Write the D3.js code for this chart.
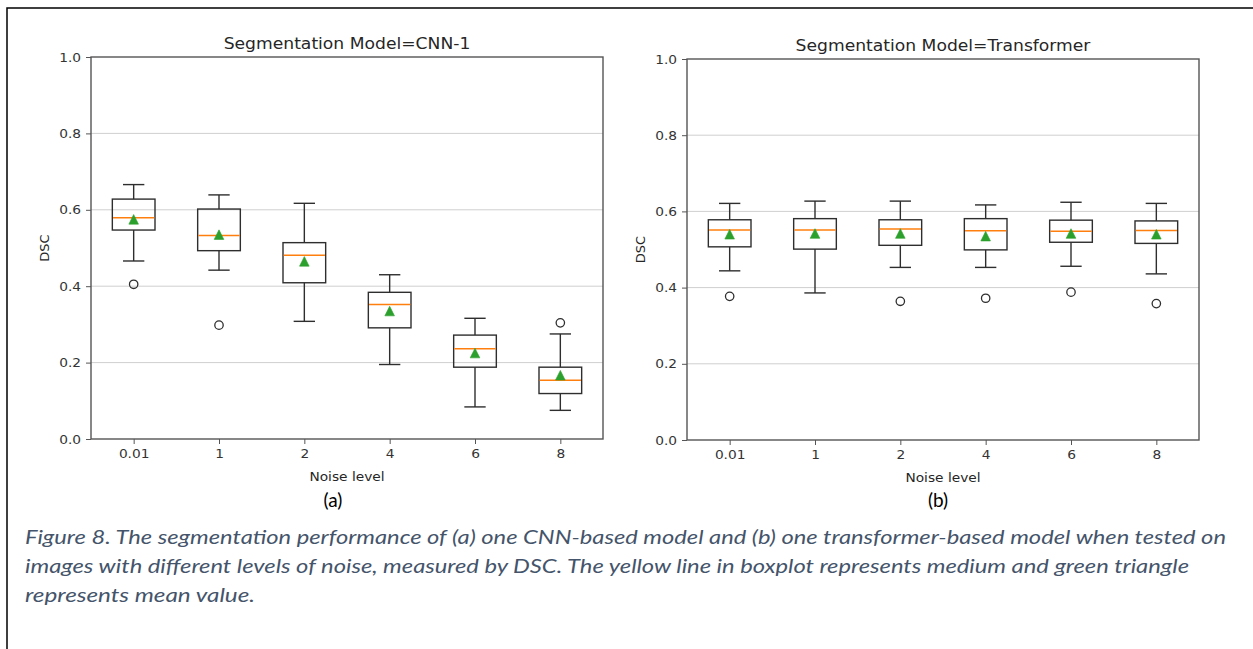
<!DOCTYPE html>
<html>
<head>
<meta charset="utf-8">
<script src="https://cdn.jsdelivr.net/npm/d3@7"></script>
<style>
  body { margin: 0; background: #fff; }
  svg text { font-family: "DejaVu Sans", sans-serif; }
</style>
</head>
<body>
<div id="my_dataviz"></div>
<script>
// categories on the x axis
var noiseLevels = ["0.01", "1", "2", "4", "6", "8"];
var yTicks = [0.0, 0.2, 0.4, 0.6, 0.8, 1.0];

// (a) CNN-1 box statistics
var cnnLow     = [0.466, 0.442, 0.308, 0.195, 0.084, 0.075];
var cnnQ1      = [0.547, 0.493, 0.409, 0.291, 0.188, 0.119];
var cnnMedian  = [0.579, 0.533, 0.481, 0.352, 0.236, 0.154];
var cnnQ3      = [0.628, 0.602, 0.514, 0.384, 0.272, 0.188];
var cnnHigh    = [0.666, 0.639, 0.617, 0.430, 0.316, 0.275];
var cnnMean    = [0.575, 0.535, 0.465, 0.335, 0.225, 0.167];
var cnnOutliers = [[0.405], [0.298], [], [], [], [0.304]];

// (b) Transformer box statistics
var trfLow     = [0.444, 0.386, 0.453, 0.453, 0.456, 0.436];
var trfQ1      = [0.507, 0.501, 0.511, 0.499, 0.519, 0.516];
var trfMedian  = [0.551, 0.551, 0.554, 0.549, 0.548, 0.550];
var trfQ3      = [0.578, 0.581, 0.578, 0.581, 0.577, 0.575];
var trfHigh    = [0.621, 0.627, 0.627, 0.617, 0.624, 0.621];
var trfMean    = [0.540, 0.542, 0.542, 0.535, 0.542, 0.540];
var trfOutliers = [[0.377], [], [0.364], [0.372], [0.388], [0.358]];

var svg = d3.select("#my_dataviz")
  .append("svg")
    .attr("width", 1253)
    .attr("height", 649);

// frame of the figure (only top and left edges fall inside the page)
svg.append("rect")
  .attr("x", 7).attr("y", 8)
  .attr("width", 1400).attr("height", 800)
  .attr("fill", "none")
  .attr("stroke", "#000")
  .attr("stroke-width", 1.5);

function makeStats(low, q1, med, q3, high, mean, outl) {
  return noiseLevels.map(function(n, i) {
    return {level: n, low: low[i], q1: q1[i], med: med[i], q3: q3[i], high: high[i], mean: mean[i], out: outl[i]};
  });
}

function drawPanel(opt) {
  var x = d3.scalePoint()
    .domain(noiseLevels)
    .range([opt.x0, opt.x1])
    .padding(0.5);
  var y = d3.scaleLinear()
    .domain([0, 1])
    .range([opt.y1, opt.y0]);
  var step = x.step();
  var boxW = step * 0.5, capW = step * 0.25;

  var g = svg.append("g");

  // grid
  g.selectAll(".grid")
    .data(yTicks.filter(function(d) { return d > 0 && d < 1; }))
    .enter().append("line")
      .attr("x1", opt.x0).attr("x2", opt.x1)
      .attr("y1", function(d) { return y(d); })
      .attr("y2", function(d) { return y(d); })
      .attr("stroke", "#cfcfcf")
      .attr("stroke-width", 1);

  // axes
  var xAxis = g.append("g")
    .attr("transform", "translate(0," + opt.y1 + ")")
    .call(d3.axisBottom(x).tickSize(5).tickPadding(5));
  var yAxis = g.append("g")
    .attr("transform", "translate(" + opt.x0 + ",0)")
    .call(d3.axisLeft(y).tickValues(yTicks).tickFormat(d3.format(".1f")).tickSize(5).tickPadding(4));
  [xAxis, yAxis].forEach(function(a) {
    a.select(".domain").remove();
    a.selectAll("line").attr("stroke", "#555").attr("stroke-width", 1);
    a.selectAll("text")
      .attr("fill", "#333")
      .attr("transform", "scale(1.1,1)")
      .style("font-family", "DejaVu Sans")
      .style("font-size", "12.5px");
  });

  // spines
  g.append("rect")
    .attr("x", opt.x0).attr("y", opt.y0)
    .attr("width", opt.x1 - opt.x0).attr("height", opt.y1 - opt.y0)
    .attr("fill", "none")
    .attr("stroke", "#555")
    .attr("stroke-width", 1.4);

  var boxes = g.selectAll(".box")
    .data(opt.data)
    .enter().append("g");

  // whiskers
  boxes.append("line")
    .attr("x1", function(d) { return x(d.level); })
    .attr("x2", function(d) { return x(d.level); })
    .attr("y1", function(d) { return y(d.low); })
    .attr("y2", function(d) { return y(d.q1); });
  boxes.append("line")
    .attr("x1", function(d) { return x(d.level); })
    .attr("x2", function(d) { return x(d.level); })
    .attr("y1", function(d) { return y(d.q3); })
    .attr("y2", function(d) { return y(d.high); });
  // caps
  boxes.append("line")
    .attr("x1", function(d) { return x(d.level) - capW / 2; })
    .attr("x2", function(d) { return x(d.level) + capW / 2; })
    .attr("y1", function(d) { return y(d.low); })
    .attr("y2", function(d) { return y(d.low); });
  boxes.append("line")
    .attr("x1", function(d) { return x(d.level) - capW / 2; })
    .attr("x2", function(d) { return x(d.level) + capW / 2; })
    .attr("y1", function(d) { return y(d.high); })
    .attr("y2", function(d) { return y(d.high); });
  // box
  boxes.append("rect")
    .attr("x", function(d) { return x(d.level) - boxW / 2; })
    .attr("width", boxW)
    .attr("y", function(d) { return y(d.q3); })
    .attr("height", function(d) { return y(d.q1) - y(d.q3); })
    .attr("fill", "none");
  boxes.selectAll("line, rect")
    .attr("stroke", "#2e2e2e")
    .attr("stroke-width", 1.4);

  // median
  boxes.append("line")
    .attr("x1", function(d) { return x(d.level) - boxW / 2 + 0.7; })
    .attr("x2", function(d) { return x(d.level) + boxW / 2 - 0.7; })
    .attr("y1", function(d) { return y(d.med); })
    .attr("y2", function(d) { return y(d.med); })
    .attr("stroke", "#ff7f0e")
    .attr("stroke-width", 1.5);

  // mean triangle
  boxes.append("path")
    .attr("d", function(d) {
      var cx = x(d.level), cy = y(d.mean), r = 4.8;
      return "M" + cx + "," + (cy - r) + "L" + (cx + r) + "," + (cy + r) + "L" + (cx - r) + "," + (cy + r) + "Z";
    })
    .attr("fill", "#2ca02c")
    .attr("stroke", "#2ca02c")
    .attr("stroke-width", 0.6);

  // fliers
  boxes.selectAll(".flier")
    .data(function(d) { return d.out.map(function(v) { return {level: d.level, v: v}; }); })
    .enter().append("circle")
      .attr("cx", function(d) { return x(d.level); })
      .attr("cy", function(d) { return y(d.v); })
      .attr("r", 4.2)
      .attr("fill", "none")
      .attr("stroke", "#2e2e2e")
      .attr("stroke-width", 1.3);

  // title + labels
  var cx = (opt.x0 + opt.x1) / 2;
  g.append("text")
    .attr("transform", "translate(" + cx + "," + (opt.y0 - 8) + ") scale(1.04,1)")
    .attr("text-anchor", "middle")
    .attr("fill", "#262626")
    .style("font-size", "16.5px")
    .text(opt.title);
  g.append("text")
    .attr("transform", "translate(" + cx + "," + (opt.y1 + 42) + ") scale(1.1,1)")
    .attr("text-anchor", "middle")
    .attr("fill", "#262626")
    .style("font-size", "12.5px")
    .text("Noise level");
  g.append("text")
    .attr("transform", "translate(" + (opt.x0 - 42) + "," + ((opt.y0 + opt.y1) / 2) + ") rotate(-90)")
    .attr("text-anchor", "middle")
    .attr("fill", "#262626")
    .style("font-size", "13px")
    .text("DSC");

  // panel letter
  svg.append("text")
    .attr("x", opt.letterX)
    .attr("y", 507)
    .attr("text-anchor", "middle")
    .attr("fill", "#000")
    .style("font-family", "Lato, 'Open Sans', sans-serif")
    .style("font-size", "19px")
    .text(opt.letter);
}

drawPanel({
  x0: 91, x1: 603, y0: 57, y1: 439,
  title: "Segmentation Model=CNN-1",
  letter: "(a)", letterX: 333,
  data: makeStats(cnnLow, cnnQ1, cnnMedian, cnnQ3, cnnHigh, cnnMean, cnnOutliers)
});
drawPanel({
  x0: 687, x1: 1199, y0: 59, y1: 440,
  title: "Segmentation Model=Transformer",
  letter: "(b)", letterX: 938,
  data: makeStats(trfLow, trfQ1, trfMedian, trfQ3, trfHigh, trfMean, trfOutliers)
});

// caption
var captionLines = [
  {t: "Figure 8. The segmentation performance of (a) one CNN-based model and (b) one transformer-based model when tested on", w: 1201},
  {t: "images with different levels of noise, measured by DSC. The yellow line in boxplot represents medium and green triangle", w: 1164},
  {t: "represents mean value.", w: 230}
];
svg.selectAll(".caption")
  .data(captionLines)
  .enter().append("text")
    .attr("x", 25)
    .attr("y", function(d, i) { return 544 + i * 29; })
    .attr("textLength", function(d) { return d.w; })
    .attr("lengthAdjust", "spacingAndGlyphs")
    .attr("fill", "#44546a")
    .style("font-family", "Lato, 'Open Sans', sans-serif")
    .style("font-style", "italic")
    .style("font-size", "19.5px")
    .text(function(d) { return d.t; });
</script>
</body>
</html>
